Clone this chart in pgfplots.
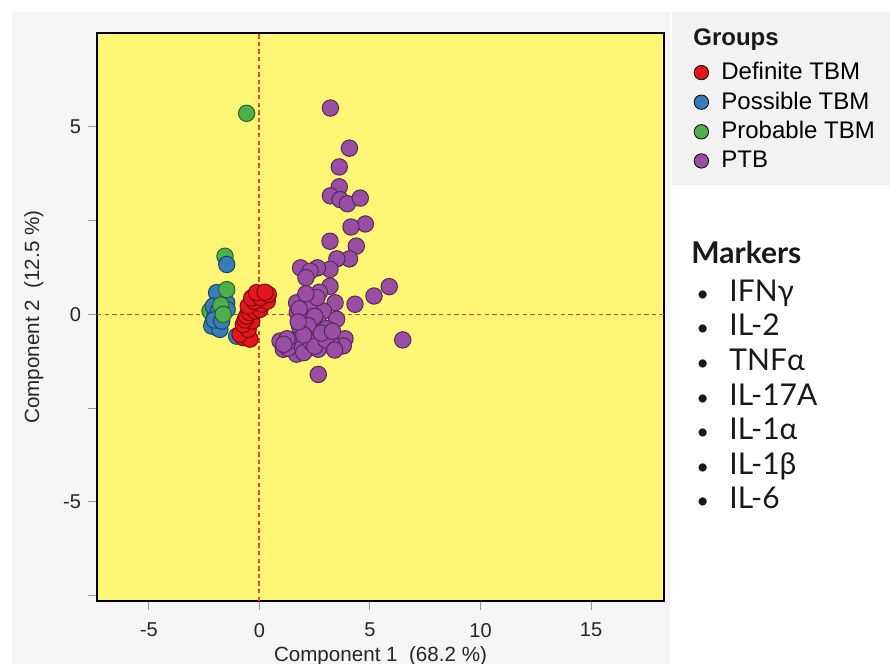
\documentclass[border=0pt]{standalone}
\usepackage{pgfplots}
\pgfplotsset{compat=1.18}
\usepackage{fontspec}
\setmainfont{Liberation Sans}
\newfontfamily\latofont{Lato}
\definecolor{bgyel}{RGB}{255,246,117}
\definecolor{cRed}{RGB}{226,22,28}
\definecolor{cBlue}{RGB}{55,126,184}
\definecolor{cGreen}{RGB}{77,175,74}
\definecolor{cPurple}{RGB}{152,78,163}
\definecolor{dashred}{RGB}{255,60,60}
\definecolor{outergray}{RGB}{245,245,245}
\definecolor{leggray}{RGB}{242,242,242}
\newcommand{\bul}{\makebox[19pt][l]{\hspace{2.5pt}{\fontsize{11}{11}\selectfont •}}}
\begin{document}
\begin{tikzpicture}
% page and background panels (1 px = 0.5 pt)
\fill[white] (-48.5pt,-31.5pt) rectangle (396.5pt,300.5pt);
\fill[outergray] (-42.5pt,-31.5pt) rectangle (286.5pt,294.5pt);
\fill[leggray] (287.5pt,208pt) rectangle (396.5pt,294.5pt);
\begin{axis}[
  at={(0,0)}, anchor=south west,
  scale only axis, width=283.5pt, height=284pt,
  xmin=-7.35, xmax=18.3, ymin=-7.64, ymax=7.5,
  axis background/.style={fill=bgyel},
  axis line style={black, line width=0.7pt},
  tick align=outside, tick pos=left,
  major tick length=4.5pt,
  every tick/.style={gray!80, line width=0.5pt},
  xtick={-5,0,5,10,15}, xticklabels={-5,0,5,10,15},
  ytick={-7.5,-5,-2.5,0,2.5,5}, yticklabels={,-5,,0,,5},
  ticklabel style={font=\fontsize{10}{12}\selectfont, text=black!85},
  xticklabel style={yshift=-3pt},
  xlabel={Component 1\ \ (68.2 \%)},
  ylabel={Component 2\ \ (12.5 \%)},
  label style={font=\fontsize{10.3}{12}\selectfont, text=black!85},
  xlabel style={yshift=2pt},
  ylabel style={yshift=3pt},
  legend style={at={(1,1)}, anchor=north west, xshift=14.5pt, yshift=-13pt,
    draw=none, fill=none, font=\fontsize{12}{14}\selectfont,
    row sep=1.6pt, inner sep=0pt, nodes={inner sep=1.5pt}},
  legend cell align=left,
  legend image code/.code={\path (-4pt,0pt) (8.5pt,0pt); \draw[#1] plot coordinates {(0pt,0pt)};},
  clip=true,
]
\addlegendimage{only marks, mark=*, mark size=3.6pt, draw=none, fill=cRed}
\addlegendentry{Definite TBM}
\addlegendimage{only marks, mark=*, mark size=3.6pt, draw=none, fill=cBlue}
\addlegendentry{Possible TBM}
\addlegendimage{only marks, mark=*, mark size=3.6pt, draw=none, fill=cGreen}
\addlegendentry{Probable TBM}
\addlegendimage{only marks, mark=*, mark size=3.6pt, draw=none, fill=cPurple}
\addlegendentry{PTB}

\addplot[forget plot, no marks, draw=dashred, dash pattern=on 2.2pt off 1.6pt, line width=1pt] coordinates {(0,-7.64) (0,7.5)};
\addplot[forget plot, no marks, draw=dashred, dash pattern=on 2.2pt off 1.6pt, line width=0.8pt] coordinates {(-7.35,0) (18.3,0)};

% Probable TBM (first part)
\addplot[forget plot, only marks, mark=*, mark size=4.1pt, mark options={fill=cGreen, draw=cGreen!55!black, line width=0.5pt}] coordinates {
(-0.58,5.36) (-1.56,1.55) (-2.09,-0.18) (-1.94,-0.35) (-2.24,0.09) (-1.86,0.40)
};
% Possible TBM
\addplot[forget plot, only marks, mark=*, mark size=4.1pt, mark options={fill=cBlue, draw=cBlue!55!black, line width=0.5pt}] coordinates {
(-1.48,1.33) (-1.94,0.58) (-2.01,-0.05) (-2.16,-0.31) (-1.79,-0.40) (-1.03,-0.58)
(-2.09,0.22) (-1.85,0.10) (-2.05,-0.15) (-1.60,0.05) (-1.71,-0.18) (-1.48,0.31) (-1.46,0.13)
};
% Probable TBM (second part)
\addplot[forget plot, only marks, mark=*, mark size=4.1pt, mark options={fill=cGreen, draw=cGreen!55!black, line width=0.5pt}] coordinates {
(-1.48,0.66) (-1.75,0.25) (-1.64,0.00)
};
% Definite TBM
\addplot[forget plot, only marks, mark=*, mark size=4.1pt, mark options={fill=cRed, draw=cRed!55!black, line width=0.5pt}] coordinates {
(-0.73,-0.62) (-0.43,-0.66) (-0.88,-0.53) (-0.51,-0.40) (-0.73,-0.27) (-0.35,-0.18)
(-0.65,-0.15) (-0.58,-0.05) (-0.45,0.05) (-0.20,0.09) (0.02,0.13) (-0.51,0.22)
(0.10,0.27) (-0.25,0.35) (0.35,0.35) (-0.35,0.44) (0.05,0.45) (0.40,0.53)
(-0.13,0.58) (0.25,0.59)
};
% PTB
\addplot[forget plot, only marks, mark=*, mark size=4.1pt, mark options={fill=cPurple, draw=cPurple!55!black, line width=0.5pt}] coordinates {
(3.21,5.50) (4.07,4.43) (3.61,3.93) (3.61,3.40) (3.21,3.16) (3.65,3.06)
(3.98,2.95) (4.56,3.10) (4.79,2.41) (4.14,2.33) (3.19,1.95) (4.38,1.82)
(4.07,1.48) (3.50,1.48) (3.19,1.20) (2.62,1.24) (1.86,1.24) (2.29,1.15)
(2.10,0.98) (3.19,0.75) (2.71,0.59) (5.87,0.74) (5.18,0.49) (4.32,0.27)
(3.42,0.31) (1.98,0.38) (1.68,0.31) (2.43,0.22) (2.89,0.09) (3.49,-0.13)
(1.71,0.05) (2.14,-0.13) (2.66,-0.22) (3.04,-0.38) (1.83,-0.35) (2.29,-0.40)
(2.43,-0.62) (1.91,-0.62) (3.87,-0.65) (3.79,-0.84) (2.86,-0.82) (3.27,-0.80)
(0.93,-0.71) (1.08,-0.93) (1.46,-0.84) (1.68,-1.06) (2.14,-0.93) (2.66,-0.93)
(6.48,-0.68) (2.66,-1.60)
(1.20,-0.75) (1.30,-0.90) (1.60,-0.70) (1.95,-0.88) (2.00,-1.02) (2.35,-0.75)
(2.50,-0.85) (3.00,-0.68) (3.40,-0.95) (2.00,0.10) (2.30,0.30) (2.50,-0.05)
(2.20,-0.30) (2.00,-0.55) (2.60,0.45) (1.80,0.15) (2.80,-0.50) (3.30,-0.45)
(2.10,0.55) (1.75,-0.20) (1.25,-0.65) (1.10,-0.80)
};
\end{axis}
\node[anchor=base west, inner sep=0pt, font=\bfseries\fontsize{12}{14}\selectfont, text=black!90] at (298pt,277.5pt) {Groups};
\node[anchor=north west, inner sep=0pt, align=left, text=black!90,
  font=\latofont\fontsize{15}{17.3}\selectfont] at (297pt,180pt)
  {{\bfseries Markers}\\[1.5pt]
   \bul IFNγ\\
   \bul IL-2\\
   \bul TNFα\\
   \bul IL-17A\\
   \bul IL-1α\\
   \bul IL-1β\\
   \bul IL-6};
\pgfresetboundingbox
\useasboundingbox (-48.5pt,-31.5pt) rectangle (396.5pt,300.5pt);
\end{tikzpicture}
\end{document}
